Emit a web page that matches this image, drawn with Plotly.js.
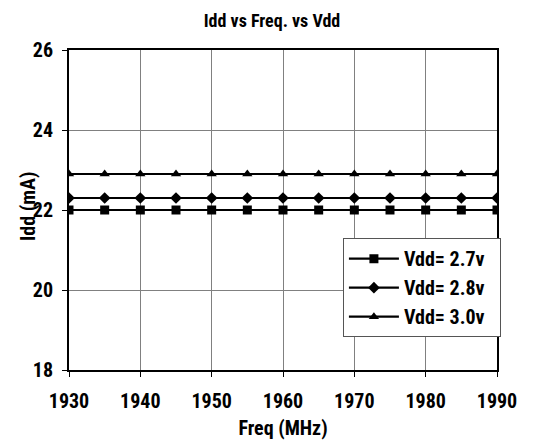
<!DOCTYPE html>
<html><head><meta charset="utf-8">
<script src="https://cdn.plot.ly/plotly-3.0.1.min.js"></script>
<style>html,body{margin:0;padding:0;background:#fff}#c{width:544px;height:443px}
.main-svg text{font-stretch:condensed !important}</style>
</head><body><div id="c"></div>
<script>
const freq = [1930,1935,1940,1945,1950,1955,1960,1965,1970,1975,1980,1985,1990];
const idd27 = [22.0,22.0,22.0,22.0,22.0,22.0,22.0,22.0,22.0,22.0,22.0,22.0,22.0];
const idd28 = [22.3,22.3,22.3,22.3,22.3,22.3,22.3,22.3,22.3,22.3,22.3,22.3,22.3];
const idd30 = [22.9,22.9,22.9,22.9,22.9,22.9,22.9,22.9,22.9,22.9,22.9,22.9,22.9];
const names = ['Vdd= 2.7v','Vdd= 2.8v','Vdd= 3.0v'];
const symbols = ['square','diamond','triangle-up'];
const series = [idd27, idd28, idd30];
const F = 'Roboto, sans-serif';
const traces = series.map((s,i)=>({
  x: freq, y: s, name: names[i], mode:'lines+markers', type:'scatter',
  line:{color:'#000', width:2.2},
  marker:{symbol:symbols[i], size:9, color:'#000'}
}));
Plotly.newPlot('c', traces, {
  width:544, height:443,
  margin:{l:69, r:47, t:50, b:73},
  paper_bgcolor:'#fff', plot_bgcolor:'#fff',
  title:{text:'Idd vs Freq. vs Vdd', x:0.5, xanchor:'center', y:0.953, yanchor:'middle', font:{family:F, size:18, weight:'bold', color:'#000'}},
  font:{family:F, size:20, weight:'bold', color:'#000'},
  xaxis:{range:[1930,1990], dtick:10, tick0:1930, showgrid:true, gridcolor:'#808080', gridwidth:1,
    ticks:'outside', ticklen:5, tickcolor:'#000', showline:true, linecolor:'#000', linewidth:2, mirror:true,
    zeroline:false, ticklabelstandoff:7, tickfont:{family:F, size:20, weight:'bold', color:'#000'},
    title:{text:'Freq (MHz)', standoff:9, font:{family:F, size:20, weight:'bold', color:'#000'}}},
  yaxis:{range:[18,26], dtick:2, tick0:18, showgrid:true, gridcolor:'#808080', gridwidth:1,
    ticks:'outside', ticklen:5, tickcolor:'#000', showline:true, linecolor:'#000', linewidth:2, mirror:true,
    zeroline:false, ticklabelstandoff:5, tickfont:{family:F, size:20, weight:'bold', color:'#000'}},
  annotations:[{text:'Idd (mA)', xref:'paper', yref:'paper', x:-0.095, y:0.5125, xanchor:'center', yanchor:'middle',
    textangle:-90, showarrow:false, font:{family:F, size:20, weight:'bold', color:'#000'}}],
  legend:{x:0.64, y:0.412, xanchor:'left', yanchor:'top', bgcolor:'#fff', bordercolor:'#555', borderwidth:1,
    font:{family:F, size:20, weight:'bold', color:'#000'}, tracegroupgap:0, itemwidth:50},
  showlegend:true
}, {staticPlot:true});
</script></body></html>
